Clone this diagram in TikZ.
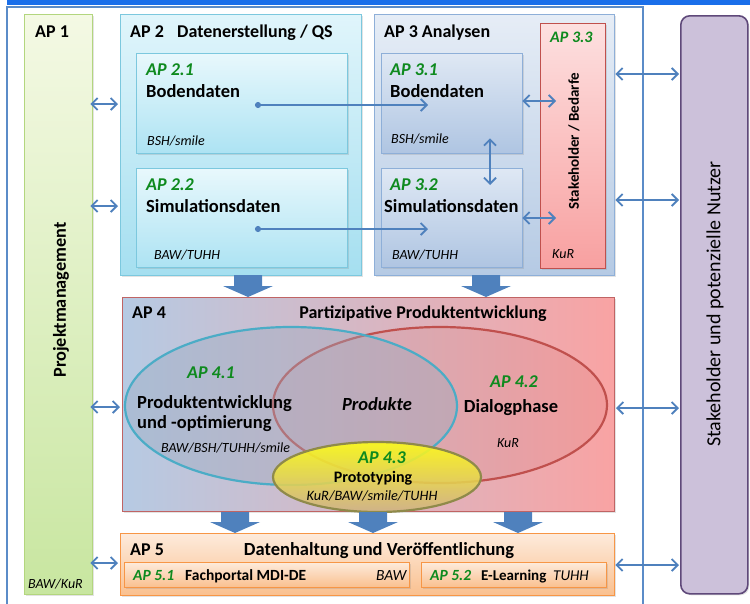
\documentclass[tikz,border=0pt]{standalone}
\usepackage{fontspec}
\setmainfont{Carlito}
\usetikzlibrary{arrows.meta,shapes.geometric,shadows,calc}
\definecolor{topbar}{HTML}{1A6FEA}
\definecolor{frame}{HTML}{5B8CC8}
\definecolor{arrowblue}{HTML}{4F81BD}
\definecolor{apgreen}{HTML}{0E8A1E}
\definecolor{aponetop}{HTML}{F4F9E4}
\definecolor{aponebot}{HTML}{C8E6A0}
\definecolor{aponeline}{HTML}{B3D67E}
\definecolor{aptwotop}{HTML}{E0F5FB}
\definecolor{aptwobot}{HTML}{A5DFF0}
\definecolor{aptwoline}{HTML}{7CC8DE}
\definecolor{aptwoitop}{HTML}{E8F8FC}
\definecolor{aptwoibot}{HTML}{ADE3F3}
\definecolor{apthreetop}{HTML}{E6EDF6}
\definecolor{apthreebot}{HTML}{B5CAE4}
\definecolor{apthreeline}{HTML}{8EAFD8}
\definecolor{apthreeitop}{HTML}{DFE8F4}
\definecolor{apthreeibot}{HTML}{AFC5E2}
\definecolor{apredtop}{HTML}{FDE0E0}
\definecolor{apredbot}{HTML}{F8A0A0}
\definecolor{apredline}{HTML}{C0504D}
\definecolor{apfourleft}{HTML}{B6CAE3}
\definecolor{apfourright}{HTML}{F9A3A3}
\definecolor{apfourline}{HTML}{C06464}
\definecolor{ellone}{HTML}{4BACC6}
\definecolor{ellonefill}{HTML}{9AAAC0}
\definecolor{elltwo}{HTML}{C0504D}
\definecolor{ellthreeline}{HTML}{8F8A4A}
\definecolor{ellthreetop}{HTML}{FFFF10}
\definecolor{ellthreemid}{HTML}{EEE23A}
\definecolor{ellthreebot}{HTML}{CFB282}
\definecolor{apfivetop}{HTML}{FDEBDC}
\definecolor{apfivebot}{HTML}{FAC08F}
\definecolor{apfiveline}{HTML}{F79646}
\definecolor{stakefill}{HTML}{CCC1DA}
\definecolor{stakeline}{HTML}{5F497A}
\newcommand\myblockdown[3]{\fill[arrowblue] (#1-14,#2) -- (#1+14,#2) -- (#1+14,#3-11) -- (#1+25,#3-11) -- (#1,#3) -- (#1-25,#3-11) -- (#1-14,#3-11) -- cycle;}
\begin{document}
\begin{tikzpicture}[x=1pt,y=-1pt,
  box/.style={draw, rectangle, inner sep=0pt, anchor=north west,
    drop shadow={opacity=0.22,shadow xshift=1.5pt,shadow yshift=-1.5pt}},
  lbl/.style={inner sep=0pt, anchor=base west},
  clbl/.style={inner sep=0pt, anchor=base},
  big/.style={font=\fontsize{18.5}{21}\selectfont\bfseries},
  ttl/.style={font=\fontsize{18}{21}\selectfont\bfseries},
  grn/.style={font=\fontsize{18}{21}\selectfont\bfseries\itshape, text=apgreen},
  sit/.style={font=\fontsize{14}{16}\selectfont\itshape},
  sml/.style={font=\fontsize{15.5}{18}\selectfont\bfseries},
  smlgrn/.style={font=\fontsize{15.5}{18}\selectfont\bfseries\itshape, text=apgreen},
  smlit/.style={font=\fontsize{15.5}{18}\selectfont\itshape},
  conn/.style={draw=arrowblue, line width=1.8pt,
    {Straight Barb[length=6pt,width=12pt]}-{Straight Barb[length=6pt,width=12pt]}},
  dotconn/.style={draw=arrowblue, line width=1.8pt,
    {Circle[length=6pt]}-{Straight Barb[length=6pt,width=12pt]}}
]
\useasboundingbox (0,0) rectangle (750,603);
% top bar and frame
\fill[topbar] (7,0) rectangle (750,5);
\draw[frame, line width=1.5pt] (7,7) rectangle (643,615);

% AP 1
\node[box, draw=aponeline, top color=aponetop, bottom color=aponebot,
  minimum width=68pt, minimum height=580pt] (ap1) at (24,14) {};
\node[lbl, ttl] (ap1t) at (35,37) {AP 1};
\node[rotate=90, font=\fontsize{18.3}{21}\selectfont\bfseries, inner sep=0pt] (ap1n) at (61,300) {Projektmanagement};
\node[lbl, sit] (ap1o) at (28,588) {BAW/KuR};

% AP 2
\node[box, draw=aptwoline, top color=aptwotop, bottom color=aptwobot,
  minimum width=241pt, minimum height=261pt] (ap2) at (120,14) {};
\node[lbl, ttl] (ap2t) at (130,37) {AP 2};
\node[lbl, ttl] (ap2n) at (177,37) {Datenerstellung / QS};
\node[box, draw=aptwoline, top color=aptwoitop, bottom color=aptwoibot,
  minimum width=211pt, minimum height=100pt] (ap21) at (136,53) {};
\node[lbl, grn] (ap21t) at (146,75) {AP 2.1};
\node[lbl, big] (ap21n) at (146,97) {Bodendaten};
\node[lbl, sit] (ap21o) at (147,145) {BSH/smile};
\node[box, draw=aptwoline, top color=aptwoitop, bottom color=aptwoibot,
  minimum width=211pt, minimum height=99pt] (ap22) at (136,168) {};
\node[lbl, grn] (ap22t) at (146,190) {AP 2.2};
\node[lbl, big] (ap22n) at (146,212) {Simulationsdaten};
\node[lbl, sit] (ap22o) at (154,259) {BAW/TUHH};

% AP 3
\node[box, draw=apthreeline, top color=apthreetop, bottom color=apthreebot,
  minimum width=240pt, minimum height=261pt] (ap3) at (374,14) {};
\node[lbl, ttl] (ap3t) at (384,37) {AP 3 Analysen};
\node[box, draw=apthreeline, top color=apthreeitop, bottom color=apthreeibot,
  minimum width=141pt, minimum height=100pt] (ap31) at (381,53) {};
\node[lbl, grn] (ap31t) at (390,75) {AP 3.1};
\node[lbl, big] (ap31n) at (390,97) {Bodendaten};
\node[lbl, sit] (ap31o) at (391,143) {BSH/smile};
\node[box, draw=apthreeline, top color=apthreeitop, bottom color=apthreeibot,
  minimum width=141pt, minimum height=99pt] (ap32) at (381,168) {};
\node[lbl, grn] (ap32t) at (390,190) {AP 3.2};
\node[lbl, big] (ap32n) at (384,212) {Simulationsdaten};
\node[lbl, sit] (ap32o) at (392,259) {BAW/TUHH};
\node[box, draw=apredline, top color=apredtop, bottom color=apredbot,
  minimum width=65pt, minimum height=245pt] (ap33) at (540,23) {};
\node[lbl, font=\fontsize{16}{19}\selectfont\bfseries\itshape, text=apgreen] (ap33t) at (550,42) {AP 3.3};
\node[rotate=90, font=\fontsize{15}{18}\selectfont\bfseries, inner sep=0pt] (ap33n) at (574,141) {Stakeholder / Bedarfe};
\node[lbl, sit] (ap33o) at (552,258) {KuR};

% Stakeholder
\node[box, draw=stakeline, fill=stakefill, line width=1.6pt, rounded corners=9pt,
  minimum width=67pt, minimum height=578pt] (stake) at (680,15) {};
\node[rotate=90, font=\fontsize{20}{23}\selectfont, inner sep=0pt] (staken) at (715,304) {Stakeholder und potenzielle Nutzer};

% AP 4
\node[box, draw=apfourline, left color=apfourleft, right color=apfourright, line width=1pt,
  minimum width=492pt, minimum height=214pt] (ap4) at (122,297) {};
\node[lbl, ttl] (ap4t) at (132,318) {AP 4};
\node[clbl, ttl] (ap4n) at (423,318) {Partizipative Produktentwicklung};
\node[ellipse, draw=elltwo, line width=2.2pt, fill=elltwo, fill opacity=0.1, draw opacity=1,
  minimum width=334pt, minimum height=156pt, inner sep=0pt] (e42) at (440,405) {};
\node[ellipse, draw=ellone, line width=2.2pt, fill=ellonefill, fill opacity=0.4, draw opacity=1,
  minimum width=332pt, minimum height=158pt, inner sep=0pt] (e41) at (291,406) {};
\node[ellipse, draw=ellthreeline, line width=2.2pt, top color=ellthreetop, middle color=ellthreemid,
  bottom color=ellthreebot, fill opacity=0.88, draw opacity=1,
  minimum width=208pt, minimum height=70pt, inner sep=0pt] (e43) at (377,477) {};
\node[clbl, grn] (e41t) at (211,378) {AP 4.1};
\node[lbl, big] (e41n) at (137,408) {Produktentwicklung};
\node[lbl, big] (e41m) at (137,428) {und -optimierung};
\node[lbl, sit] (e41o) at (161,452) {BAW/BSH/TUHH/smile};
\node[clbl, font=\fontsize{18.5}{21}\selectfont\bfseries\itshape] (prod) at (377,410) {Produkte};
\node[clbl, grn] (e42t) at (514,387) {AP 4.2};
\node[clbl, big] (e42n) at (511,412) {Dialogphase};
\node[clbl, sit] (e42o) at (508,447) {KuR};
\node[clbl, grn] (e43t) at (382,463) {AP 4.3};
\node[clbl, font=\fontsize{16}{18}\selectfont\bfseries] (e43n) at (373,482) {Prototyping};
\node[clbl, font=\fontsize{14.3}{16}\selectfont\itshape] (e43o) at (372,500) {KuR/BAW/smile/TUHH};

% AP 5
\node[box, draw=apfiveline, top color=apfivetop, bottom color=apfivebot,
  minimum width=494pt, minimum height=62pt] (ap5) at (120,533) {};
\node[lbl, ttl] (ap5t) at (130,555) {AP 5};
\node[clbl, font=\fontsize{18.5}{21}\selectfont\bfseries] (ap5n) at (379,555) {Datenhaltung und Veröffentlichung};
\node[box, draw=apfiveline, top color=apfivetop, bottom color=apfivebot,
  minimum width=285pt, minimum height=25pt] (ap51) at (124,562) {};
\node[lbl, smlgrn] (ap51t) at (133,580) {AP 5.1};
\node[lbl, sml] (ap51n) at (185,580) {Fachportal MDI-DE};
\node[lbl, smlit] (ap51o) at (376,580) {BAW};
\node[box, draw=apfiveline, top color=apfivetop, bottom color=apfivebot,
  minimum width=185pt, minimum height=25pt] (ap52) at (421,562) {};
\node[lbl, smlgrn] (ap52t) at (430,580) {AP 5.2};
\node[lbl, font=\fontsize{15}{18}\selectfont\bfseries] (ap52n) at (481,580) {E-Learning};
\node[lbl, font=\fontsize{15}{18}\selectfont\itshape] (ap52o) at (553,580) {TUHH};

% block arrows
\myblockdown{248}{275}{297}
\myblockdown{486}{275}{297}
\myblockdown{235}{512}{533}
\myblockdown{373}{512}{533}
\myblockdown{518}{512}{533}

% connectors left
\foreach \yy/\nn in {104/ap2, 206/ap2, 407/ap4, 563/ap5}
  \draw[conn] ([xshift=-2pt]ap1.east |- 0,\yy) -- ([xshift=-2pt]\nn.west |- 0,\yy);
% connectors right
\foreach \yy/\nn in {74/ap3, 200/ap3, 408/ap4, 565/ap5}
  \draw[conn] ([xshift=1pt]\nn.east |- 0,\yy) -- ([xshift=-1pt]stake.west |- 0,\yy);
% AP3 internal
\draw[conn] (ap31.east |- 0,101) -- ([xshift=16pt]ap33.west |- 0,101);
\draw[conn] (ap32.east |- 0,218) -- ([xshift=16pt]ap33.west |- 0,218);
\draw[conn] ([yshift=15pt]ap31.south -| 490,0) -- ([yshift=-17pt]ap32.north -| 490,0);
% data flow
\coordinate (d1) at (255,105);
\coordinate (d2) at (255,229);
\draw[dotconn] (d1) -- (ap31.west |- d1) -- ++(47,0);
\draw[dotconn] (d2) -- (ap32.west |- d2) -- ++(47,0);
\end{tikzpicture}
\end{document}
